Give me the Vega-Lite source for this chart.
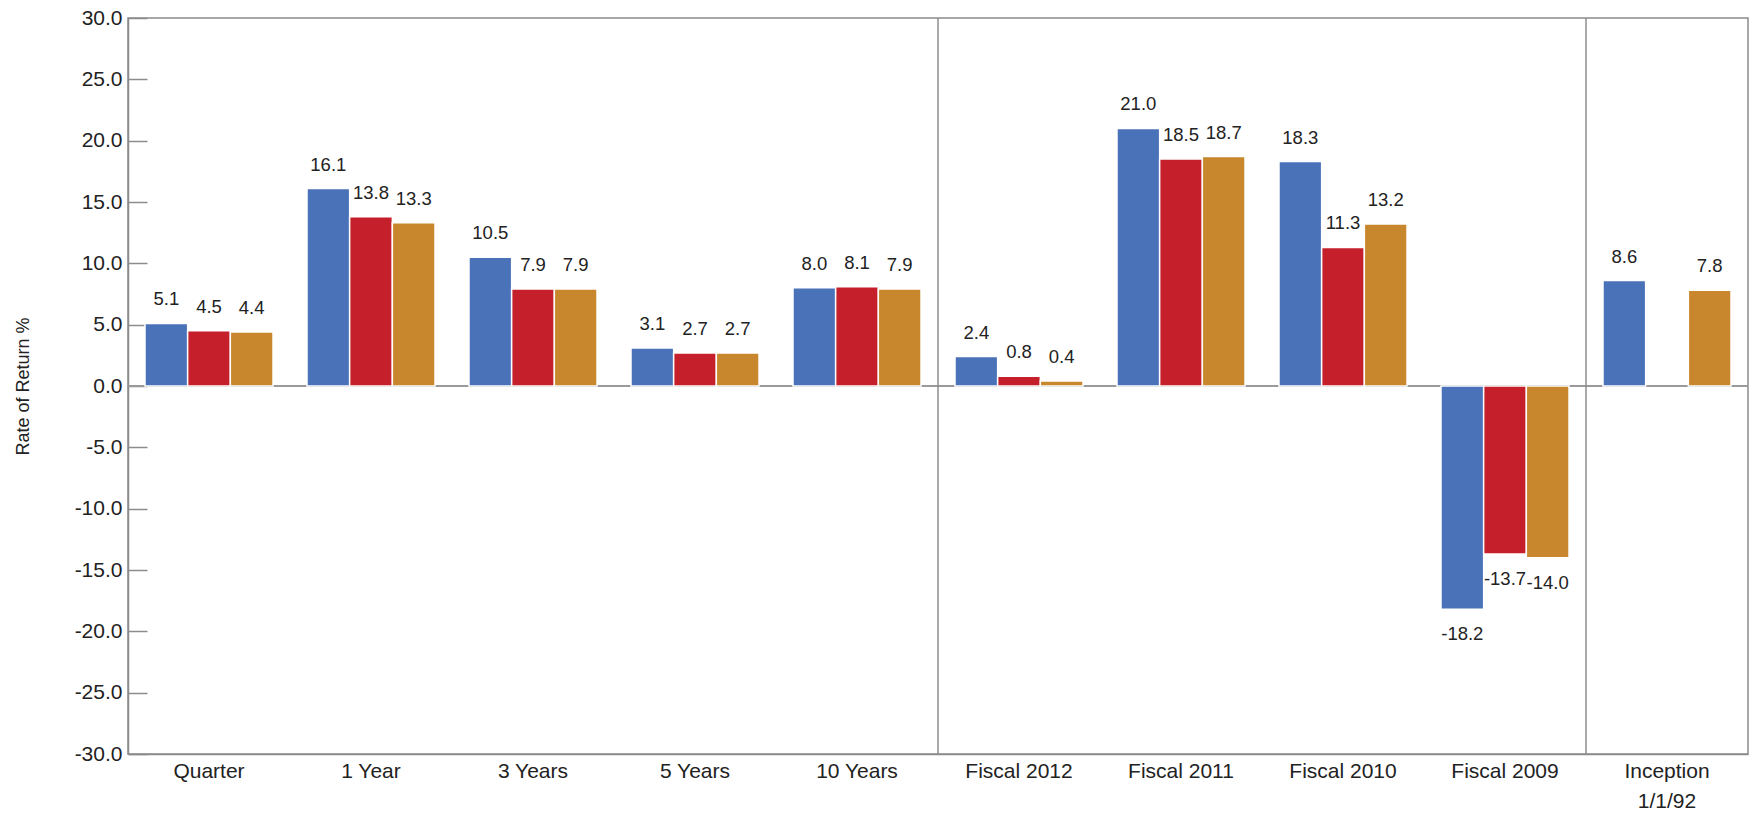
{
  "$schema": "https://vega.github.io/schema/vega-lite/v6.json",
  "width": 1620,
  "height": 736,
  "autosize": {"type": "none"},
  "padding": {"left": 128, "top": 18, "right": 1, "bottom": 60},
  "background": "white",
  "config": {
    "view": {"stroke": "#8c8c8c", "strokeWidth": 1.5},
    "font": "Liberation Sans",
    "locale": {"number": {"decimal": ".", "thousands": ",", "grouping": [3], "currency": ["$", ""], "minus": "-"}}
  },
  "datasets": {
    "returns": [
      {"period": "Quarter", "series": "Portfolio", "value": 5.1},
      {"period": "Quarter", "series": "Benchmark A", "value": 4.5},
      {"period": "Quarter", "series": "Benchmark B", "value": 4.4},
      {"period": "1 Year", "series": "Portfolio", "value": 16.1},
      {"period": "1 Year", "series": "Benchmark A", "value": 13.8},
      {"period": "1 Year", "series": "Benchmark B", "value": 13.3},
      {"period": "3 Years", "series": "Portfolio", "value": 10.5},
      {"period": "3 Years", "series": "Benchmark A", "value": 7.9},
      {"period": "3 Years", "series": "Benchmark B", "value": 7.9},
      {"period": "5 Years", "series": "Portfolio", "value": 3.1},
      {"period": "5 Years", "series": "Benchmark A", "value": 2.7},
      {"period": "5 Years", "series": "Benchmark B", "value": 2.7},
      {"period": "10 Years", "series": "Portfolio", "value": 8.0},
      {"period": "10 Years", "series": "Benchmark A", "value": 8.1},
      {"period": "10 Years", "series": "Benchmark B", "value": 7.9},
      {"period": "Fiscal 2012", "series": "Portfolio", "value": 2.4},
      {"period": "Fiscal 2012", "series": "Benchmark A", "value": 0.8},
      {"period": "Fiscal 2012", "series": "Benchmark B", "value": 0.4},
      {"period": "Fiscal 2011", "series": "Portfolio", "value": 21.0},
      {"period": "Fiscal 2011", "series": "Benchmark A", "value": 18.5},
      {"period": "Fiscal 2011", "series": "Benchmark B", "value": 18.7},
      {"period": "Fiscal 2010", "series": "Portfolio", "value": 18.3},
      {"period": "Fiscal 2010", "series": "Benchmark A", "value": 11.3},
      {"period": "Fiscal 2010", "series": "Benchmark B", "value": 13.2},
      {"period": "Fiscal 2009", "series": "Portfolio", "value": -18.2},
      {"period": "Fiscal 2009", "series": "Benchmark A", "value": -13.7},
      {"period": "Fiscal 2009", "series": "Benchmark B", "value": -14.0},
      {"period": "Inception\n1/1/92", "series": "Portfolio", "value": 8.6},
      {"period": "Inception\n1/1/92", "series": "Benchmark B", "value": 7.8}
    ],
    "separators": [
      {"period": "Fiscal 2012"},
      {"period": "Inception\n1/1/92"}
    ],
    "zero": [
      {"level": 0}
    ]
  },
  "layer": [
    {
      "data": {"name": "zero"},
      "mark": {"type": "rule", "color": "#9a9a9a", "strokeWidth": 2},
      "encoding": {"y": {"field": "level", "type": "quantitative", "scale": {"domain": [-30, 30], "nice": false}}}
    },
    {
      "data": {"name": "separators"},
      "mark": {"type": "rule", "color": "#8c8c8c", "strokeWidth": 1.5},
      "encoding": {
        "x": {"field": "period", "type": "nominal", "bandPosition": 0,
          "scale": {"domain": ["Quarter", "1 Year", "3 Years", "5 Years", "10 Years", "Fiscal 2012", "Fiscal 2011", "Fiscal 2010", "Fiscal 2009", "Inception\n1/1/92"], "paddingInner": 0, "paddingOuter": 0}}
      }
    },
    {
      "data": {"name": "returns"},
      "mark": {"type": "bar", "stroke": "white", "strokeWidth": 1.5},
      "encoding": {
        "x": {"field": "period", "type": "nominal",
          "scale": {"domain": ["Quarter", "1 Year", "3 Years", "5 Years", "10 Years", "Fiscal 2012", "Fiscal 2011", "Fiscal 2010", "Fiscal 2009", "Inception\n1/1/92"], "paddingInner": 0, "paddingOuter": 0},
          "axis": {"title": null, "ticks": false, "bandPosition": 0.5, "labelPadding": 6, "labelFontSize": 21, "labelColor": "#222222", "labelAngle": 0, "labelAlign": "center", "labelBaseline": "top", "labelExpr": "split(datum.label, '\\n')", "labelLineHeight": 30, "domainColor": "#8c8c8c", "domainWidth": 1.5}},
        "xOffset": {"field": "series", "type": "nominal",
          "scale": {"domain": ["Portfolio", "Benchmark A", "Benchmark B"], "paddingOuter": 0.398, "paddingInner": 0}},
        "y": {"field": "value", "type": "quantitative",
          "scale": {"domain": [-30, 30], "nice": false},
          "axis": {"title": "Rate of Return %", "values": [-30, -25, -20, -15, -10, -5, 0, 5, 10, 15, 20, 25, 30], "format": ".1f", "grid": false, "tickSize": -19, "labelPadding": 25, "tickColor": "#8c8c8c", "tickWidth": 1.5, "domainColor": "#8c8c8c", "domainWidth": 1.5, "labelFontSize": 21, "labelColor": "#222222", "titleFontSize": 18, "titleFontWeight": "normal", "titleColor": "#222222", "titlePadding": 42}},
        "color": {"field": "series", "type": "nominal",
          "scale": {"domain": ["Portfolio", "Benchmark A", "Benchmark B"], "range": ["#4a72b8", "#c41f2a", "#c8862d"]},
          "legend": null}
      }
    },
    {
      "data": {"name": "returns"},
      "transform": [{"filter": "datum.value >= 0"}],
      "mark": {"type": "text", "baseline": "alphabetic", "dy": -18, "fontSize": 18.5, "font": "Liberation Sans", "fill": "#222222"},
      "encoding": {
        "x": {"field": "period", "type": "nominal"},
        "xOffset": {"field": "series", "type": "nominal"},
        "y": {"field": "value", "type": "quantitative"},
        "text": {"field": "value", "type": "quantitative", "format": ".1f"}
      }
    },
    {
      "data": {"name": "returns"},
      "transform": [{"filter": "datum.value < 0"}],
      "mark": {"type": "text", "baseline": "top", "dy": 16, "fontSize": 18.5, "font": "Liberation Sans", "fill": "#222222"},
      "encoding": {
        "x": {"field": "period", "type": "nominal"},
        "xOffset": {"field": "series", "type": "nominal"},
        "y": {"field": "value", "type": "quantitative"},
        "text": {"field": "value", "type": "quantitative", "format": ".1f"}
      }
    }
  ]
}
